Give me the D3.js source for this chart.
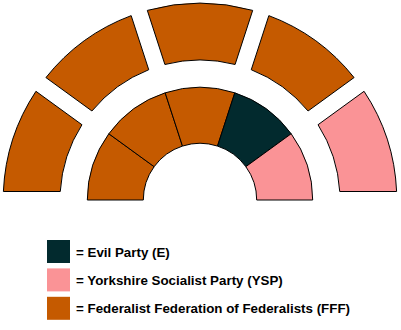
<!DOCTYPE html>
<html>
<head>
<meta charset="utf-8">
<script src="https://cdn.jsdelivr.net/npm/d3@7"></script>
<style>
  html, body { margin: 0; padding: 0; background: #fff; }
  svg { display: block; }
</style>
</head>
<body>
<svg id="chart" width="401" height="330"></svg>
<script>
// Parties and their colours
const parties = ["E", "YSP", "FFF"];
const partyNames = [
  "= Evil Party (E)",
  "= Yorkshire Socialist Party (YSP)",
  "= Federalist Federation of Federalists (FFF)"
];
const partyColors = ["#022A2E", "#FA9396", "#C55A00"];

// Seat blocks, left to right, for each ring of the chamber
const outerRing = ["FFF", "FFF", "FFF", "FFF", "YSP"];
const innerRing = ["FFF", "FFF", "FFF", "E", "YSP"];

const svg = d3.select("#chart");
const color = d3.scaleOrdinal().domain(parties).range(partyColors);

const cx = 200, cy = 200;
const g = svg.append("g").attr("transform", `translate(${cx},${cy})`);

const halfCircle = (pad) => d3.pie()
  .value(() => 1)
  .sort(null)
  .startAngle(-Math.PI / 2)
  .endAngle(Math.PI / 2)
  .padAngle(pad);

// Outer ring: separate blocks with parallel gaps
const outerArc = d3.arc().innerRadius(140).outerRadius(196.8).padRadius(100);
g.append("g").selectAll("path")
  .data(halfCircle(0.17)(outerRing))
  .join("path")
  .attr("d", outerArc)
  .attr("fill", d => color(d.data))
  .attr("stroke", "#000")
  .attr("stroke-width", 1);

// Inner ring: contiguous blocks
const innerArc = d3.arc().innerRadius(56.7).outerRadius(112.7);
g.append("g").selectAll("path")
  .data(halfCircle(0)(innerRing))
  .join("path")
  .attr("d", innerArc)
  .attr("fill", d => color(d.data))
  .attr("stroke", "#000")
  .attr("stroke-width", 1);

// Legend
const legend = svg.append("g").attr("transform", "translate(47,240)");
const rows = legend.selectAll("g")
  .data(parties)
  .join("g")
  .attr("transform", (d, i) => `translate(0,${i * 28.4})`);
rows.append("rect")
  .attr("width", 23).attr("height", 23)
  .attr("fill", d => color(d));
rows.append("text")
  .attr("x", 29).attr("y", 16.7)
  .attr("font-family", "Liberation Sans, Arial, sans-serif")
  .attr("font-weight", "bold")
  .attr("font-size", 13.35)
  .attr("fill", "#000")
  .text((d, i) => partyNames[i]);
</script>
</body>
</html>
